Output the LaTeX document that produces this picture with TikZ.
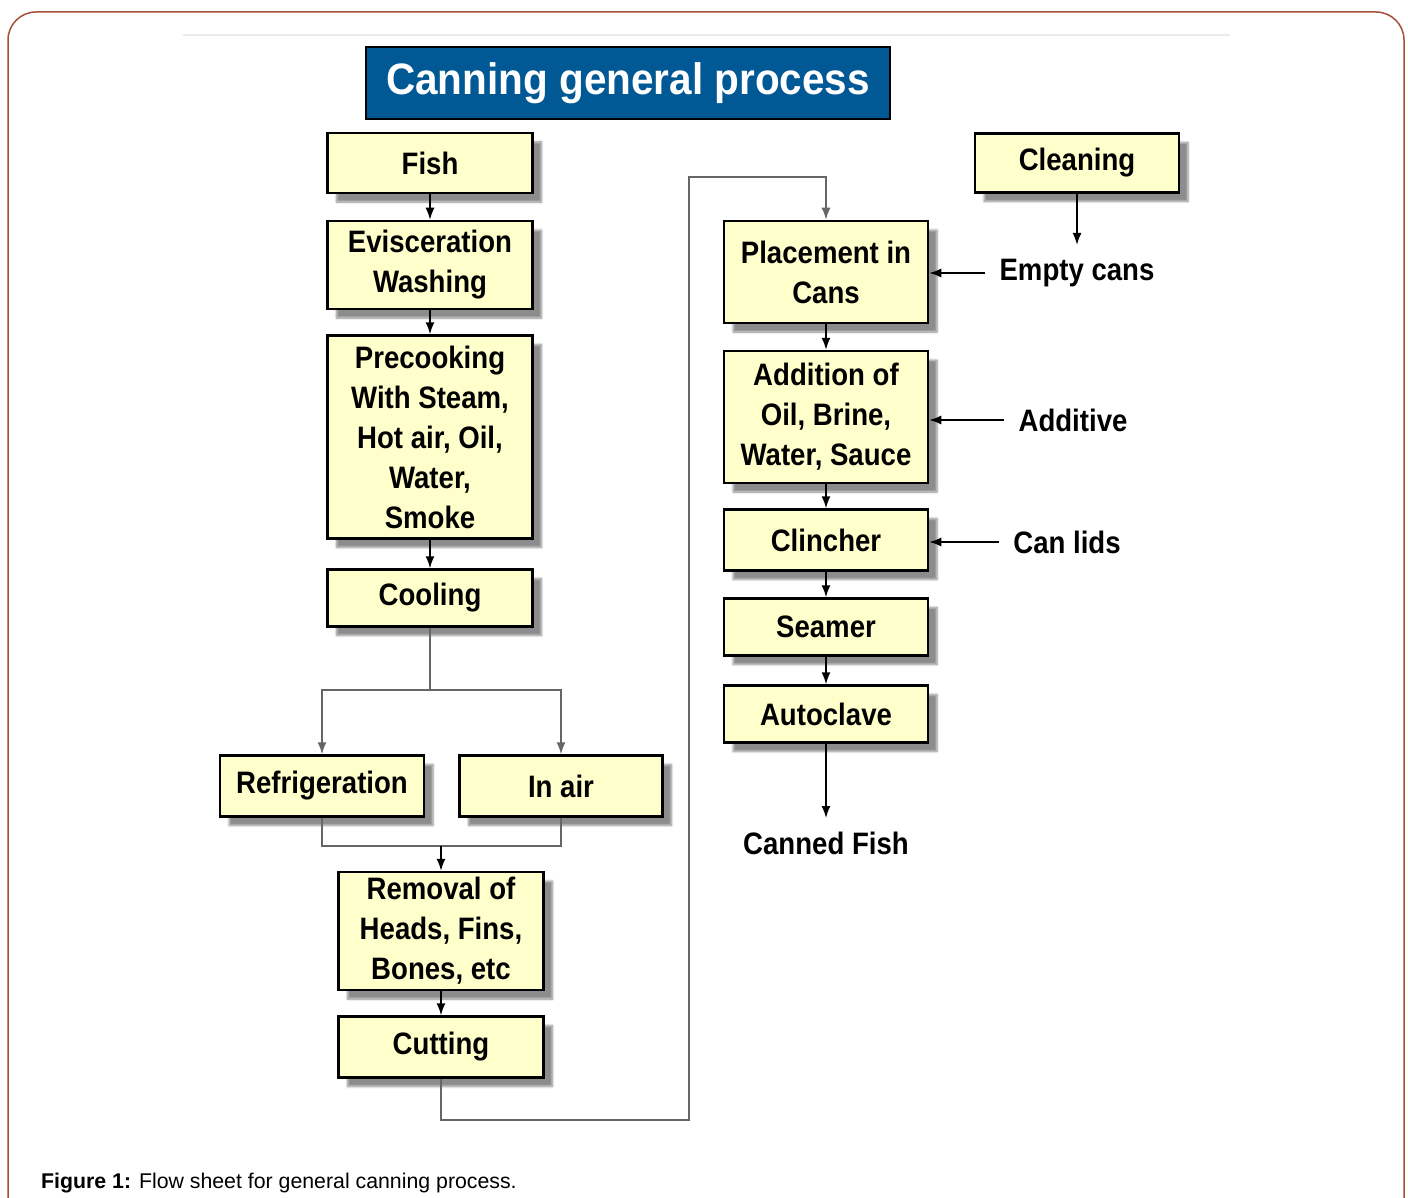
\documentclass[tikz,border=0pt]{standalone}
\usepackage{fontspec}
\setmainfont{Liberation Sans}
\newfontfamily\narrowfont[FakeStretch=0.89]{Liberation Sans}
\newfontfamily\titlefont[FakeStretch=0.92]{Liberation Sans}
\usetikzlibrary{positioning, arrows.meta, shadows.blur}
\definecolor{boxyellow}{RGB}{255,255,204}
\definecolor{titleblue}{RGB}{0,88,148}
\definecolor{framebrown}{RGB}{166,78,56}
\tikzset{
  stepbox/.style={draw, line width=2.5pt, fill=boxyellow, minimum width=205pt, inner sep=0pt, align=center,
    font=\narrowfont\bfseries\fontsize{31pt}{40pt}\selectfont,
    blur shadow={shadow xshift=9pt, shadow yshift=-9pt, shadow blur steps=6, shadow opacity=45}},
  sidelabel/.style={inner sep=14pt, align=center, font=\narrowfont\bfseries\fontsize{31pt}{40pt}\selectfont},
  arr/.style={line width=1.5pt, -{Latex[length=12pt, width=9pt]}},
  gline/.style={line width=1.5pt, black!60}
}

\begin{document}
\begin{tikzpicture}[x=1pt, y=-1pt]
    \useasboundingbox (0,0) rectangle (1408,1198);
    % frame and title
    \begin{scope}
        \clip (0,0) rectangle (1408,1198);
        \draw [framebrown, line width=1.5pt, rounded corners=28pt] (8,1260) rectangle (1404,12);
    \end{scope}
    \draw [black!8, line width=2pt] (183,35) -- (1230,35);
    \node (title) [draw, line width=2.5pt, fill=titleblue, text=white, minimum width=524pt, minimum height=72pt, inner sep=0pt,
        font=\titlefont\bfseries\fontsize{44pt}{48pt}\selectfont] at (628,83) {Canning general process};

    % left column
    \node (fish) [stepbox, minimum height=60pt] at (430,163) {Fish};
    \node (evisc) [stepbox, minimum height=88pt] at (430,265) {Evisceration\\Washing};
    \node (precook) [stepbox, minimum height=203pt] at (430,437) {Precooking\\With Steam,\\Hot air, Oil,\\Water,\\Smoke};
    \node (cooling) [stepbox, minimum height=57pt] at (430,598) {Cooling};
    \node (refrig) [stepbox, minimum height=61pt, minimum width=204pt] at (322,786) {Refrigeration};
    \node (inair) [stepbox, minimum height=61pt, minimum width=203pt] at (561,786) {In air};
    \node (removal) [stepbox, minimum height=118pt] at (441,931) {Removal of\\Heads, Fins,\\Bones, etc};
    \node (cutting) [stepbox, minimum height=61pt] at (441,1047) {Cutting};

    % right column
    \node (cleaning) [stepbox, minimum height=59pt, minimum width=204pt] at (1077,163) {Cleaning};
    \node (placement) [stepbox, minimum height=102pt, minimum width=204pt] at (826,272) {Placement in\\Cans};
    \node (addition) [stepbox, minimum height=132pt, minimum width=204pt] at (826,417) {Addition of\\Oil, Brine,\\Water, Sauce};
    \node (clincher) [stepbox, minimum height=61pt, minimum width=204pt] at (826,540) {Clincher};
    \node (seamer) [stepbox, minimum height=57pt, minimum width=204pt] at (826,627) {Seamer};
    \node (autoclave) [stepbox, minimum height=57pt, minimum width=204pt] at (826,714) {Autoclave};

    \node (emptycans) [sidelabel] at (1077,273) {Empty cans};
    \node (additive) [sidelabel] at (1073,420) {Additive};
    \node (canlids) [sidelabel] at (1067,542) {Can lids};
    \node (cannedfish) [sidelabel, anchor=north] at (826,818) {Canned Fish};

    \node (caption) [anchor=base west, inner sep=0pt, font=\fontsize{21.3pt}{24pt}\selectfont] at (41,1188)
        {\textbf{Figure 1:} Flow sheet for general canning process.};

    % connectors
    \draw [arr] (fish) -- (evisc);
    \draw [arr] (evisc) -- (precook);
    \draw [arr] (precook) -- (cooling);

    \coordinate (split) at (430,690);
    \draw [gline] (cooling.south) -- (split);
    \draw [gline, arr, black!60] (split) -| (refrig.north);
    \draw [gline, arr, black!60] (split) -| (inair.north);

    \coordinate (merge) at (441,846);
    \draw [gline] (refrig.south) |- (merge) -| (inair.south);
    \draw [arr] (merge) -- (removal.north);
    \draw [arr] (removal) -- (cutting);

    \coordinate (loopbottom) at (689,1120);
    \coordinate (looptop) at (689,177);
    \draw [gline, arr, black!60] (cutting.south) |- (loopbottom) -- (looptop) -| (placement.north);

    \draw [arr] (cleaning.south) -- (emptycans.north);
    \draw [arr] (emptycans.west) -- (placement.east |- emptycans.west);
    \draw [arr] (additive.west) -- (addition.east |- additive.west);
    \draw [arr] (canlids.west) -- (clincher.east |- canlids.west);

    \draw [arr] (placement) -- (addition);
    \draw [arr] (addition) -- (clincher);
    \draw [arr] (clincher) -- (seamer);
    \draw [arr] (seamer) -- (autoclave);
    \draw [arr] (autoclave.south) -- (cannedfish.north);
\end{tikzpicture}
\end{document}
